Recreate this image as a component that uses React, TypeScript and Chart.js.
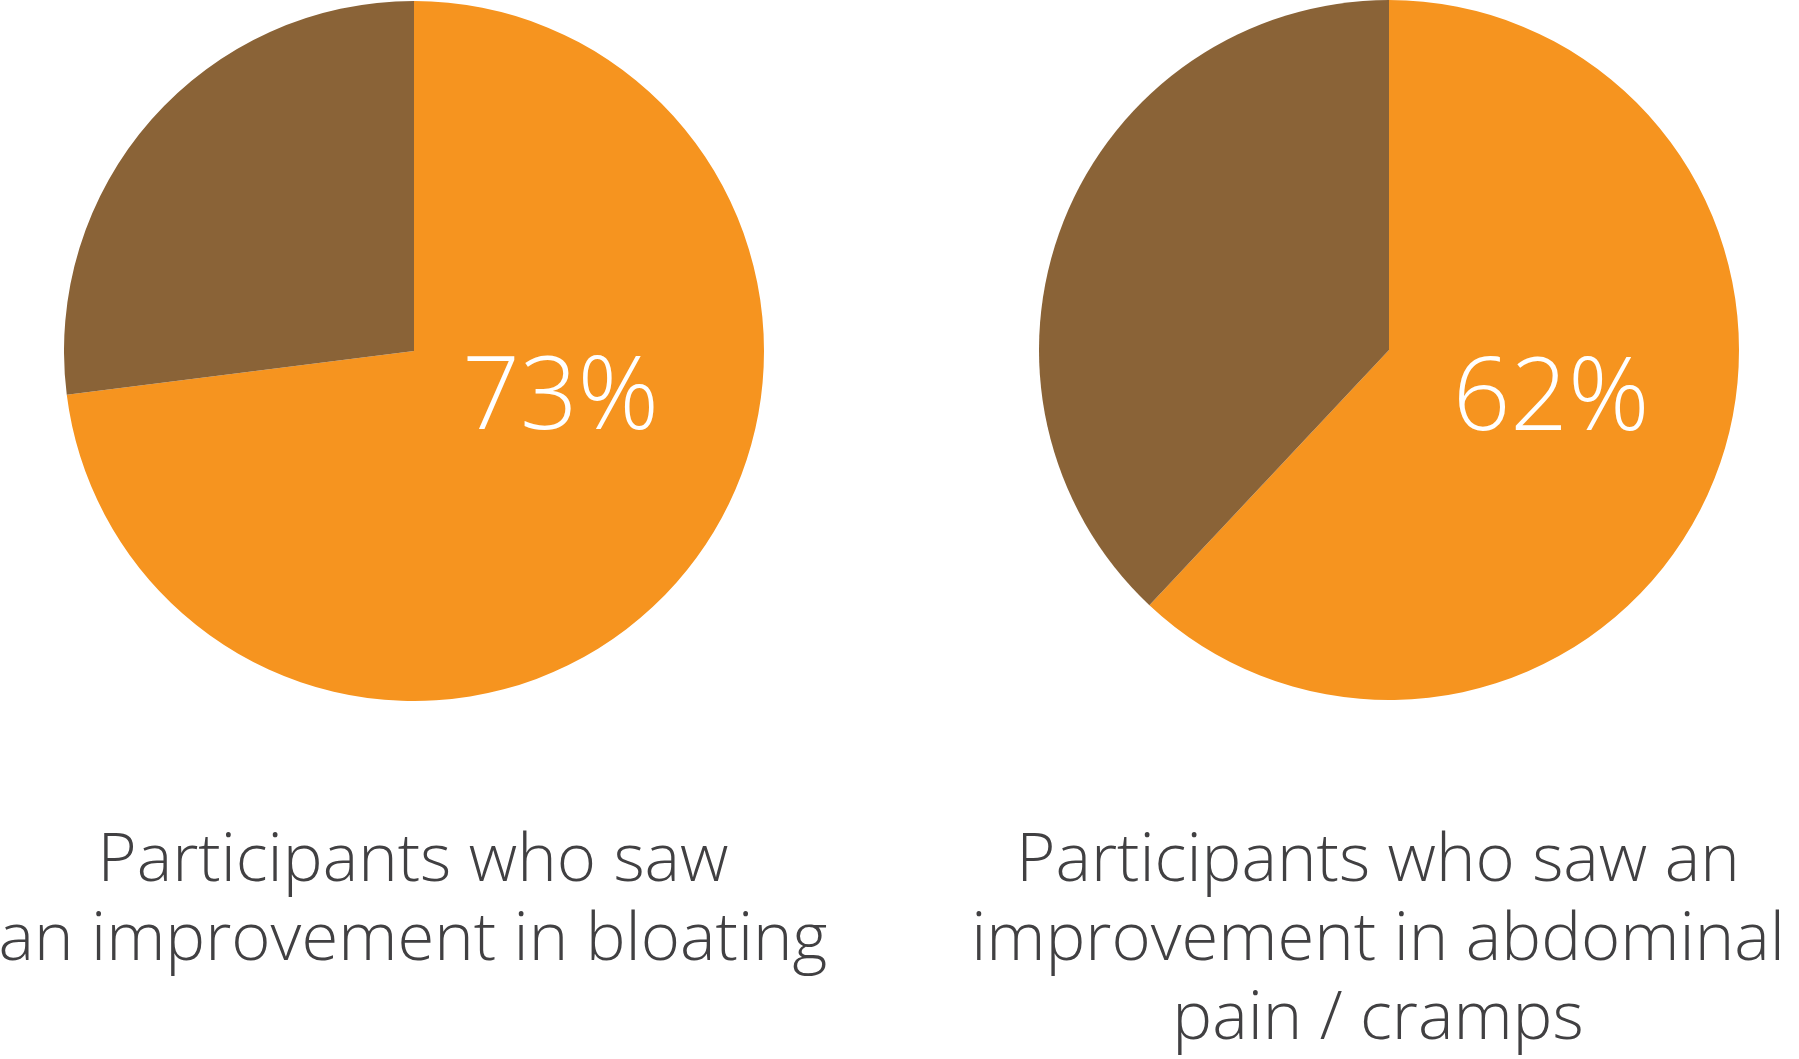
import React, { useEffect, useRef } from "react";
import { Chart, registerables } from "chart.js";

Chart.register(...registerables);

// ---- data ----
const sliceLabels = ["Saw an improvement", "No improvement"];
const bloatingValues = [73, 27];
const crampsValues = [62, 38];
const sliceColors = ["#F6941F", "#8A6337"];
const bloatingCaption = ["Participants who saw", "an improvement in bloating"];
const crampsCaption = ["Participants who saw an", "improvement in abdominal", "pain / cramps"];

const FONT = "'Open Sans', 'Noto Sans', sans-serif";

const percentPlugin = {
  id: "percentLabel",
  afterDatasetsDraw(chart: any, _args: any, opts: any) {
    const meta = chart.getDatasetMeta(0);
    const arc = meta.data[0];
    if (!arc) return;
    const { x, y, outerRadius } = arc.getProps(["x", "y", "outerRadius"], true);
    const v = chart.data.datasets[0].data[0];
    const ctx = chart.ctx;
    ctx.save();
    ctx.fillStyle = "#ffffff";
    ctx.font = `300 ${opts.size}px ${FONT}`;
    ctx.textAlign = "center";
    ctx.textBaseline = "alphabetic";
    ctx.fillText(`${v}%`, x + outerRadius * opts.dx, y + outerRadius * opts.dy);
    ctx.restore();
  },
};

function PieBox(props: {
  values: number[];
  left: number;
  top: number;
  size: number;
  dx: number;
  dy: number;
}) {
  const ref = useRef<HTMLCanvasElement>(null);
  useEffect(() => {
    if (!ref.current) return;
    const chart = new Chart(ref.current, {
      type: "pie",
      data: {
        labels: sliceLabels,
        datasets: [
          {
            data: props.values,
            backgroundColor: sliceColors,
            borderWidth: 0,
            hoverOffset: 0,
          },
        ],
      },
      options: {
        responsive: false,
        animation: false,
        devicePixelRatio: 1,
        layout: { padding: 0 },
        plugins: {
          legend: { display: false },
          tooltip: { enabled: false },
          percentLabel: { dx: props.dx, dy: props.dy, size: 101 },
        } as any,
        events: [],
      },
      plugins: [percentPlugin],
    });
    return () => chart.destroy();
  }, []);
  return (
    <canvas
      ref={ref}
      width={props.size}
      height={props.size}
      style={{
        position: "absolute",
        left: props.left,
        top: props.top,
        width: props.size,
        height: props.size,
      }}
    />
  );
}

function Caption(props: { lines: string[]; cx: number; top: number }) {
  return (
    <div
      style={{
        position: "absolute",
        left: props.cx - 500,
        top: props.top,
        width: 1000,
        textAlign: "center",
        fontFamily: FONT,
        fontWeight: 300,
        fontSize: 67,
        lineHeight: "79px",
        color: "#414042",
        whiteSpace: "nowrap",
      }}
    >
      {props.lines.map((l, i) => (
        <div key={i}>{l}</div>
      ))}
    </div>
  );
}

export default function App() {
  return (
    <div
      style={{
        position: "absolute",
        left: 0,
        top: 0,
        width: 1799,
        height: 1059,
        background: "#ffffff",
        overflow: "hidden",
      }}
    >
      <PieBox values={bloatingValues} left={64} top={1} size={700} dx={0.419} dy={0.223} />
      <PieBox values={crampsValues} left={1039} top={0} size={700} dx={0.463} dy={0.229} />
      <Caption lines={bloatingCaption} cx={413} top={816} />
      <Caption lines={crampsCaption} cx={1378} top={816} />
    </div>
  );
}
